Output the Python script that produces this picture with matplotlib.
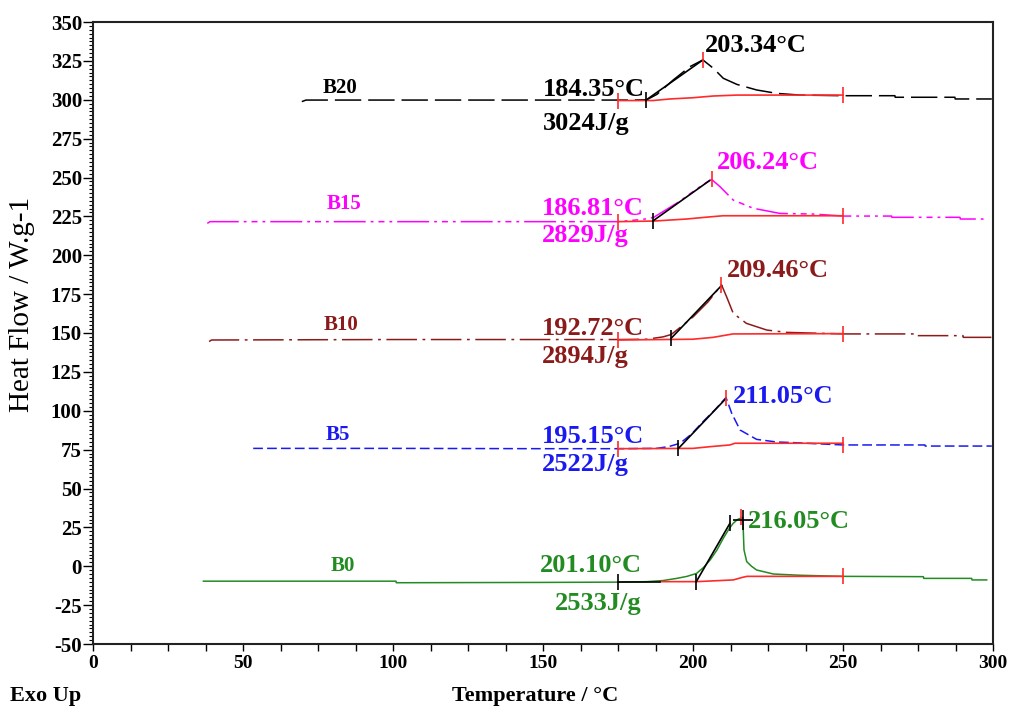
import matplotlib
matplotlib.use("Agg")
import matplotlib.pyplot as plt
from matplotlib.ticker import MultipleLocator

plt.rcParams['font.family'] = ['Liberation Serif', 'DejaVu Serif']
plt.rcParams['lines.scale_dashes'] = False
plt.rcParams['axes.unicode_minus'] = False

# ---------------- data ----------------
names = ["B0", "B5", "B10", "B15", "B20"]
colors = ["#228B22", "#1A1AF0", "#8B1A1A", "#FF00FF", "#000000"]
onset_T = [201.10, 195.15, 192.72, 186.81, 184.35]
peak_T = [216.05, 211.05, 209.46, 206.24, 203.34]
enthalpy = [2533, 2522, 2894, 2829, 3024]

# DSC curves (temperature, heat flow)
b0_T = [36.8, 101, 101.1, 150, 175, 184.6, 190, 194.6, 198, 201.2, 203.5, 205.7, 208, 210.1, 212,
        213.4, 214.8, 215.7, 216.6, 217.0, 217.9, 219.5, 221.2, 226.8, 235.7, 250, 276.8, 276.9,
        292.9, 293.0, 297.9]
b0_HF = [-9.6, -9.6, -10.6, -10.4, -10.2, -9.9, -9.2, -7.8, -6.5, -4.6, -0.8, 4.0, 10.5, 18.0, 24.0,
         27.6, 30.0, 30.8, 31.5, 10.5, 3.0, 0.0, -2.4, -5.0, -5.8, -6.5, -6.7, -7.8, -7.8, -8.8, -8.8]
b5_T = [53.4, 100, 150, 175, 187.9, 192, 195.7, 199.5, 203.4, 207.5, 211.0, 212.9, 215.7, 221.2,
        227.9, 232.3, 250, 277.3, 277.4, 299.6]
b5_HF = [75.8, 75.8, 75.6, 75.6, 75.8, 77.0, 79.1, 85.0, 93.1, 101.0, 108.5, 98.4, 87.6, 81.6,
         79.9, 79.6, 78.0, 78.0, 77.3, 77.3]
b10_T = [38.7, 39.5, 100, 150, 175, 184.6, 190, 192.7, 196, 200.1, 205, 209.5, 211.2, 213.4, 217.8,
         224.6, 231.2, 250, 274.3, 274.4, 290, 290.1, 300]
b10_HF = [144.5, 145.5, 145.8, 145.8, 145.8, 146.0, 147.5, 149.0, 154.0, 160.5, 170.0, 181.0, 173.3,
          162.7, 156.2, 151.9, 150.4, 149.4, 149.4, 148.3, 148.3, 147.2, 147.2]
b15_T = [38.1, 39, 100, 150, 175, 181.2, 185, 187, 195, 203, 206.2, 209, 213.4, 220.1, 229, 240.1,
         250, 266.2, 266.3, 289, 289.1, 298.3]
b15_HF = [220.5, 221.6, 221.6, 221.6, 221.6, 222.7, 223.5, 224.5, 234.0, 245.0, 248.8, 244.1, 235.5,
          230.2, 226.9, 226.5, 225.2, 225.2, 224.4, 224.4, 223.3, 223.3]
b20_T = [69.6, 71, 100, 150, 175, 180, 184.6, 188, 193.4, 199, 203.3, 206.8, 210.1, 214.6, 221.2,
         227.9, 235.7, 250, 267.3, 267.4, 287.3, 287.4, 299.6]
b20_HF = [298.8, 299.8, 299.8, 299.8, 299.8, 299.8, 300.0, 303.5, 312.7, 321.3, 325.6, 320.2, 313.8,
          309.9, 306.3, 304.1, 303.0, 302.6, 302.6, 301.6, 301.6, 300.5, 300.5]

# integration baselines (red)
b0_base_T = [189, 201.2, 213.4, 216.6, 218, 250]
b0_base_HF = [-9.9, -9.9, -8.8, -7.1, -6.5, -6.5]
b0_base_black_T = [175, 189]
b0_base_black_HF = [-9.9, -9.9]
b5_base_T = [175, 200, 205.7, 212.3, 214, 250]
b5_base_HF = [75.6, 75.8, 76.9, 78.0, 79.1, 79.1]
b10_base_T = [175, 200, 206.7, 213.3, 250]
b10_base_HF = [145.5, 146.0, 147.2, 149.4, 149.6]
b15_base_T = [175, 187, 197.9, 204, 210, 250]
b15_base_HF = [221.6, 222.0, 223.3, 224.4, 225.4, 225.4]
b20_base_T = [175, 186.7, 192.3, 200, 206.7, 214.6, 250]
b20_base_HF = [299.5, 299.5, 300.5, 301.3, 302.4, 303.0, 303.0]

# onset tangents (black)
b0_tan_T = [201.1, 212.3]
b0_tan_HF = [-9.9, 27.6]
b5_tan_T = [195.15, 210.8]
b5_tan_HF = [75.8, 107.5]
b10_tan_T = [192.72, 209.5]
b10_tan_HF = [146.6, 180.5]
b15_tan_T = [186.81, 205.5]
b15_tan_HF = [222.3, 248.0]
b20_tan_T = [184.35, 203.3]
b20_tan_HF = [299.8, 325.6]

# annotation anchors
label_T = [83.3, 81.7, 82.8, 83.7, 82.3]
label_HF = [0.0, 84.4, 155.0, 233.0, 307.6]
peak_mark_HF = [31.5, 108.5, 181.0, 248.8, 325.6]
peak_text_T = [218.4, 213.4, 211.2, 207.9, 204.0]
peak_text_HF = [24.4, 104.8, 186.2, 255.3, 330.9]
onset_text_T = [149.0, 149.6, 149.6, 149.6, 150.0]
onset_text_HF = [-3.5, 79.0, 148.7, 225.9, 302.4]
enth_text_T = [154.0, 149.6, 149.6, 149.6, 150.0]
enth_text_HF = [-28.1, 61.5, 130.5, 208.7, 280.5]
start_HF = [-9.9, 75.6, 145.5, 221.6, 299.5]
end_HF = [-6.5, 78.0, 149.5, 225.3, 302.8]

curves_T = [b0_T, b5_T, b10_T, b15_T, b20_T]
curves_HF = [b0_HF, b5_HF, b10_HF, b15_HF, b20_HF]
base_T = [b0_base_T, b5_base_T, b10_base_T, b15_base_T, b20_base_T]
base_HF = [b0_base_HF, b5_base_HF, b10_base_HF, b15_base_HF, b20_base_HF]
tan_T = [b0_tan_T, b5_tan_T, b10_tan_T, b15_tan_T, b20_tan_T]
tan_HF = [b0_tan_HF, b5_tan_HF, b10_tan_HF, b15_tan_HF, b20_tan_HF]

dash_styles = [None, [7, 3], [22, 4, 2, 4], [23, 3.6, 2, 3.6, 4.3, 3.6, 2, 3.6], [19, 5]]

RED = "#FF2A2A"

# ---------------- figure ----------------
fig = plt.figure(figsize=(10.12, 7.06), dpi=100)
ax = fig.add_axes([93 / 1012, 1 - 644 / 706, 900 / 1012, 622 / 706])

for i in range(5):
    line, = ax.plot(curves_T[i], curves_HF[i], color=colors[i], lw=1.1, zorder=2)
    if dash_styles[i] is not None:
        line.set_dashes(dash_styles[i])
    # baseline
    ax.plot(base_T[i], base_HF[i], color=RED, lw=1.2, zorder=3)
    # tangent
    ax.plot(tan_T[i], tan_HF[i], color="black", lw=1.2, zorder=4)
    # tick marks at integration limits
    lim_col = "black" if i == 0 else RED
    ax.plot([175], [start_HF[i]], marker="|", ms=12, mew=1.2, color=lim_col, zorder=5)
    ax.plot([250], [end_HF[i]], marker="|", ms=12, mew=1.2, color=RED, zorder=5)
    ax.plot([onset_T[i]], [tan_HF[i][0]], marker="|", ms=12, mew=1.2, color="black", zorder=5)
    ax.plot([peak_T[i]], [peak_mark_HF[i]], marker="|", ms=12, mew=1.2, color=RED, zorder=5)
    # texts
    ax.text(label_T[i], label_HF[i], names[i], color=colors[i], fontsize=15,
            fontweight="bold", ha="center", va="center")
    ax.text(peak_text_T[i], peak_text_HF[i], f"{peak_T[i]:.2f}°C", color=colors[i],
            fontsize=19, fontweight="bold", ha="left", va="baseline")
    ax.text(onset_text_T[i], onset_text_HF[i], f"{onset_T[i]:.2f}°C", color=colors[i],
            fontsize=19, fontweight="bold", ha="left", va="baseline")
    ax.text(enth_text_T[i], enth_text_HF[i], f"{enthalpy[i]}J/g", color=colors[i],
            fontsize=19, fontweight="bold", ha="left", va="baseline")

# extra marks on B0 peak
ax.plot(b0_base_black_T, b0_base_black_HF, color="black", lw=1.2, zorder=4)
ax.plot([b0_tan_T[1]], [b0_tan_HF[1]], marker="|", ms=12, mew=1.2, color="black", zorder=5)
ax.plot([216.6], [29.5], marker="+", ms=14, mew=1.2, color="black", zorder=6)

ax.set_xlim(0, 300)
ax.set_ylim(-50, 350)
ax.xaxis.set_major_locator(MultipleLocator(50))
ax.xaxis.set_minor_locator(MultipleLocator(12.5))
ax.yaxis.set_major_locator(MultipleLocator(25))
ax.yaxis.set_minor_locator(MultipleLocator(2.5))
ax.tick_params(axis="x", which="both", direction="out", length=5, width=1, pad=3,
               labelsize=14)
ax.tick_params(axis="y", which="major", direction="out", length=7, width=1, pad=1,
               labelsize=15)
ax.tick_params(axis="y", which="minor", direction="out", length=3, width=0.8)
for lab in ax.get_xticklabels() + ax.get_yticklabels():
    lab.set_fontweight("bold")
for sp in ax.spines.values():
    sp.set_linewidth(1.5)
    sp.set_color("#222222")

fig.text(22 / 1012, 1 - 304 / 706, "Heat Flow / W.g-1", rotation=90, fontsize=21,
         ha="center", va="center")
fig.text(535 / 1012, 1 - 701 / 706, "Temperature / °C", fontsize=16, fontweight="bold",
         ha="center", va="baseline")
fig.text(10 / 1012, 1 - 701 / 706, "Exo Up", fontsize=16, fontweight="bold",
         ha="left", va="baseline")

fig.savefig("out.png", dpi=100)
